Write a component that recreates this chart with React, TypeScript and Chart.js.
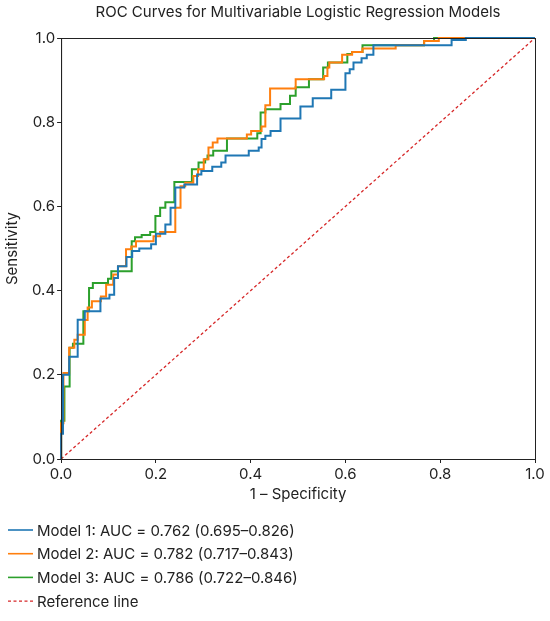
import { useEffect, useRef } from 'react';
import { Chart, registerables } from 'chart.js';

Chart.register(...registerables);

const FONT = 'Inter, "Noto Sans", sans-serif';
const INK = '#222222';

// step corners of each ROC curve: at fpr[i] the curve rises to tpr[i]
const model1Fpr = [0, 0, 0.004, 0.017, 0.035, 0.05, 0.083, 0.102, 0.112, 0.12, 0.138, 0.15, 0.165, 0.19, 0.2, 0.22, 0.231, 0.241, 0.26, 0.287, 0.296, 0.319, 0.338, 0.347, 0.396, 0.417, 0.423, 0.431, 0.442, 0.463, 0.505, 0.531, 0.57, 0.6, 0.609, 0.617, 0.634, 0.645, 0.659, 0.824, 0.854, 1.0];
const model1Tpr = [0, 0.06, 0.2, 0.243, 0.331, 0.351, 0.381, 0.39, 0.43, 0.458, 0.48, 0.494, 0.5, 0.51, 0.535, 0.557, 0.597, 0.645, 0.652, 0.676, 0.684, 0.694, 0.704, 0.721, 0.732, 0.74, 0.76, 0.768, 0.779, 0.809, 0.837, 0.857, 0.877, 0.916, 0.926, 0.942, 0.952, 0.96, 0.983, 0.995, 1.0, 1.0];

const model2Fpr = [0, 0, 0.005, 0.017, 0.028, 0.035, 0.05, 0.056, 0.065, 0.084, 0.095, 0.11, 0.12, 0.137, 0.148, 0.158, 0.195, 0.209, 0.241, 0.252, 0.262, 0.279, 0.289, 0.301, 0.311, 0.32, 0.33, 0.392, 0.401, 0.423, 0.431, 0.441, 0.495, 0.555, 0.562, 0.566, 0.593, 0.614, 0.636, 0.706, 0.766, 0.797, 1.0];
const model2Tpr = [0, 0.085, 0.204, 0.264, 0.283, 0.295, 0.33, 0.36, 0.375, 0.386, 0.414, 0.438, 0.458, 0.498, 0.505, 0.517, 0.529, 0.539, 0.597, 0.648, 0.656, 0.672, 0.688, 0.712, 0.74, 0.752, 0.761, 0.771, 0.779, 0.79, 0.84, 0.88, 0.902, 0.91, 0.93, 0.942, 0.96, 0.967, 0.975, 0.983, 0.993, 1.0, 1.0];

const model3Fpr = [0, 0, 0.007, 0.018, 0.025, 0.047, 0.059, 0.067, 0.099, 0.106, 0.149, 0.156, 0.17, 0.188, 0.199, 0.209, 0.22, 0.239, 0.276, 0.29, 0.304, 0.309, 0.321, 0.35, 0.414, 0.421, 0.431, 0.463, 0.483, 0.495, 0.523, 0.553, 0.563, 0.604, 0.614, 0.636, 0.766, 0.787, 1.0];
const model3Tpr = [0, 0.091, 0.172, 0.264, 0.274, 0.351, 0.406, 0.418, 0.428, 0.446, 0.517, 0.527, 0.532, 0.539, 0.577, 0.597, 0.61, 0.658, 0.688, 0.704, 0.712, 0.721, 0.732, 0.761, 0.774, 0.823, 0.831, 0.843, 0.863, 0.883, 0.902, 0.93, 0.942, 0.962, 0.967, 0.983, 0.993, 1.0, 1.0];

const referenceFpr = [0, 1];
const referenceTpr = [0, 1];

const seriesLabels = [
  'Model 1: AUC = 0.762 (0.695–0.826)',
  'Model 2: AUC = 0.782 (0.717–0.843)',
  'Model 3: AUC = 0.786 (0.722–0.846)',
  'Reference line',
];
const seriesColors = ['#1f77b4', '#ff7f0e', '#2ca02c', '#d62728'];
const axisTicks = [0, 0.2, 0.4, 0.6, 0.8, 1.0];

const toPoints = (xs: number[], ys: number[]) => xs.map((x, i) => ({ x, y: ys[i] }));

// box around the plot, like matplotlib's spines
const framePlugin = {
  id: 'frame',
  afterDatasetsDraw(chart: any) {
    const { ctx, chartArea: a } = chart;
    ctx.save();
    ctx.strokeStyle = INK;
    ctx.lineWidth = 1;
    ctx.strokeRect(a.left + 0.5, a.top + 0.5, a.right - a.left, a.bottom - a.top);
    ctx.restore();
  },
};

// vertical legend under the axes
const legendPlugin = {
  id: 'stackLegend',
  afterDraw(chart: any) {
    const { ctx } = chart;
    ctx.save();
    ctx.font = `15px ${FONT}`;
    ctx.textBaseline = 'middle';
    seriesLabels.forEach((label, i) => {
      const y = 530 + i * 23.7;
      ctx.strokeStyle = seriesColors[i];
      ctx.lineWidth = i === 3 ? 1.3 : 1.6;
      ctx.setLineDash(i === 3 ? [3, 2.5] : []);
      ctx.beginPath();
      ctx.moveTo(8, y);
      ctx.lineTo(33, y);
      ctx.stroke();
      ctx.setLineDash([]);
      ctx.fillStyle = INK;
      ctx.fillText(label, 37, y + 1);
    });
    ctx.restore();
  },
};

export default function App() {
  const canvasRef = useRef<HTMLCanvasElement>(null);
  const chartRef = useRef<Chart | null>(null);

  useEffect(() => {
    if (!canvasRef.current) return;
    if (chartRef.current) chartRef.current.destroy();

    const curves = [
      toPoints(model1Fpr, model1Tpr),
      toPoints(model2Fpr, model2Tpr),
      toPoints(model3Fpr, model3Tpr),
    ];

    const datasets: any[] = curves.map((data, i) => ({
      label: seriesLabels[i],
      data,
      borderColor: seriesColors[i],
      borderWidth: 2,
      pointRadius: 0,
      stepped: 'before',
      fill: false,
      clip: 4,
    }));
    datasets.push({
      label: seriesLabels[3],
      data: toPoints(referenceFpr, referenceTpr),
      borderColor: seriesColors[3],
      borderWidth: 1.3,
      borderDash: [3, 2.5],
      pointRadius: 0,
      fill: false,
      clip: 4,
    });

    const axisTick = { color: INK, font: { size: 15, family: FONT }, padding: 2 };
    const axisGrid = { drawOnChartArea: false, drawTicks: true, tickLength: 4, color: INK };
    const fixTicks = (axis: any) => {
      axis.ticks = axisTicks.map(v => ({ value: v }));
    };

    chartRef.current = new Chart(canvasRef.current, {
      type: 'line',
      data: { datasets },
      plugins: [framePlugin, legendPlugin],
      options: {
        animation: false,
        responsive: true,
        maintainAspectRatio: false,
        layout: { padding: { left: 3, right: 15, top: 0, bottom: 118 } },
        plugins: {
          legend: { display: false },
          tooltip: { enabled: false },
          title: {
            display: true,
            fullSize: false,
            text: 'ROC Curves for Multivariable Logistic Regression Models',
            color: INK,
            font: { size: 15, family: FONT, weight: 'normal' },
            padding: { top: 3, bottom: 17 },
          },
        },
        scales: {
          x: {
            type: 'linear',
            min: 0,
            max: 1,
            afterBuildTicks: fixTicks,
            ticks: { ...axisTick, callback: (v: any) => Number(v).toFixed(1), maxRotation: 0 },
            grid: axisGrid,
            border: { color: INK, width: 1 },
            title: {
              display: true,
              text: '1 – Specificity',
              color: INK,
              font: { size: 15, family: FONT },
              padding: { top: 0, bottom: 0 },
            },
          },
          y: {
            type: 'linear',
            min: 0,
            max: 1,
            afterBuildTicks: fixTicks,
            ticks: { ...axisTick, callback: (v: any) => Number(v).toFixed(1) },
            grid: axisGrid,
            border: { color: INK, width: 1 },
            title: {
              display: true,
              text: 'Sensitivity',
              color: INK,
              font: { size: 15, family: FONT },
              padding: { top: 0, bottom: 9 },
            },
          },
        },
      },
    });

    return () => {
      if (chartRef.current) {
        chartRef.current.destroy();
        chartRef.current = null;
      }
    };
  }, []);

  return (
    <div style={{ position: 'absolute', left: 0, top: 0, width: 550, height: 621, background: '#fff' }}>
      <canvas ref={canvasRef} />
    </div>
  );
}
